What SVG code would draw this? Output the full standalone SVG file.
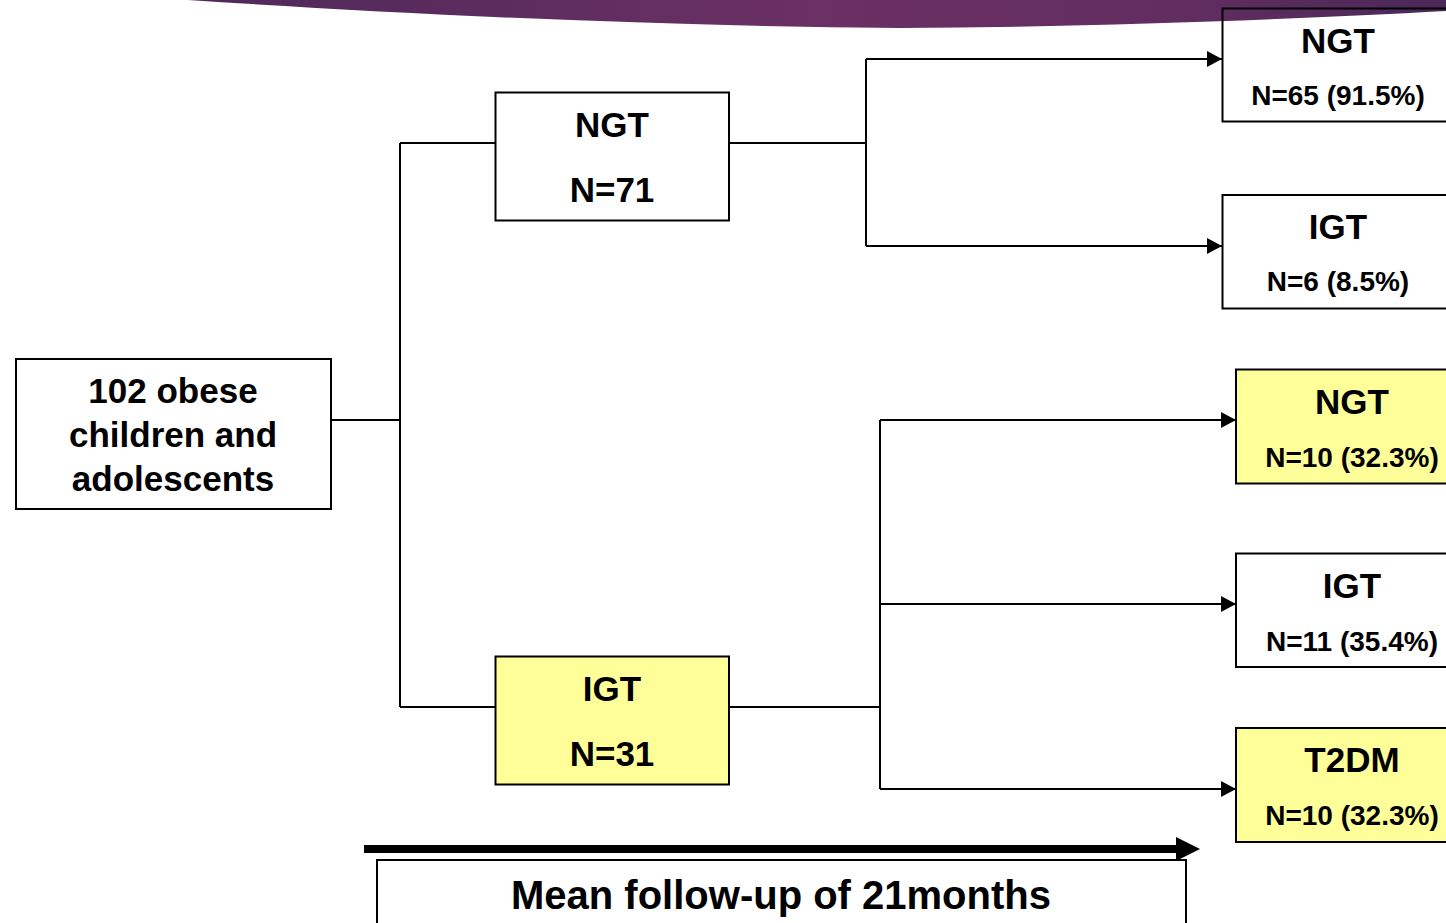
<svg xmlns="http://www.w3.org/2000/svg" width="1446" height="923" viewBox="0 0 1446 923">
<defs>
<linearGradient id="band" x1="0" y1="0" x2="1" y2="0">
<stop offset="0" stop-color="#4f295a"/>
<stop offset="0.5" stop-color="#6b3064"/>
<stop offset="0.8" stop-color="#612d60"/>
<stop offset="1" stop-color="#4a2858"/>
</linearGradient>
<marker id="arr" markerWidth="16" markerHeight="16" refX="15" refY="8" orient="auto" markerUnits="userSpaceOnUse">
<path d="M0,0 L15,8 L0,16 Z" fill="#000"/>
</marker>
<style>
.box{fill:none;stroke:#000;stroke-width:2}
.yel{fill:#ffff99;stroke:#000;stroke-width:2}
.t{font-family:"Liberation Sans",Arial,sans-serif;font-weight:bold;fill:#000;text-anchor:middle}
.big{font-size:35px}
.sm{font-size:28px}
.ln{fill:none;stroke:#000;stroke-width:2}
</style>
</defs>
<rect width="1446" height="923" fill="#fff"/>
<path d="M188,0 C400,14 650,26 900,28 C1100,27 1300,19 1446,11 L1446,0 Z" fill="url(#band)"/>

<g id="connectors">
<path class="ln" d="M331,420 H400 M400,143 V707 M400,143 H495 M400,707 H495"/>
<path class="ln" d="M729,143 H866 M866,59 V246"/>
<path class="ln" d="M866,59 H1222" marker-end="url(#arr)"/>
<path class="ln" d="M866,246 H1222" marker-end="url(#arr)"/>
<path class="ln" d="M729,707 H880 M880,420 V789"/>
<path class="ln" d="M880,420 H1236" marker-end="url(#arr)"/>
<path class="ln" d="M880,604 H1236" marker-end="url(#arr)"/>
<path class="ln" d="M880,789 H1236" marker-end="url(#arr)"/>
<path d="M364,849 H1178" stroke="#000" stroke-width="8" fill="none"/>
<path d="M1176,837 L1200,849 L1176,861 Z" fill="#000"/>
</g>

<g id="root">
<rect class="box" x="16" y="359" width="315" height="150"/>
<text class="t big" x="173" y="403">102 obese</text>
<text class="t big" x="173" y="447">children and</text>
<text class="t big" x="173" y="491">adolescents</text>
</g>

<g id="ngt71">
<rect class="box" x="495.5" y="92.5" width="233.5" height="128"/>
<text class="t big" x="612" y="137">NGT</text>
<text class="t big" x="612" y="202">N=71</text>
</g>

<g id="igt31">
<rect class="yel" x="495.5" y="656.5" width="233.5" height="128"/>
<text class="t big" x="612" y="701">IGT</text>
<text class="t big" x="612" y="766">N=31</text>
</g>

<g id="ngt65">
<rect class="box" x="1222.5" y="8.5" width="240" height="113"/>
<text class="t big" x="1338" y="53">NGT</text>
<text class="t sm" x="1338" y="105">N=65 (91.5%)</text>
</g>

<g id="igt6">
<rect class="box" x="1222.5" y="195" width="240" height="113.5"/>
<text class="t big" x="1338" y="239">IGT</text>
<text class="t sm" x="1338" y="291">N=6 (8.5%)</text>
</g>

<g id="ngt10">
<rect class="yel" x="1236" y="369.5" width="240" height="114"/>
<text class="t big" x="1352" y="414">NGT</text>
<text class="t sm" x="1352" y="467">N=10 (32.3%)</text>
</g>

<g id="igt11">
<rect class="box" x="1236" y="553.5" width="240" height="113.5"/>
<text class="t big" x="1352" y="598">IGT</text>
<text class="t sm" x="1352" y="651">N=11 (35.4%)</text>
</g>

<g id="t2dm">
<rect class="yel" x="1236" y="728" width="240" height="114"/>
<text class="t big" x="1352" y="772">T2DM</text>
<text class="t sm" x="1352" y="825">N=10 (32.3%)</text>
</g>

<g id="followup">
<rect class="box" x="377" y="860" width="809" height="80"/>
<text class="t" style="font-size:40px" x="781" y="909">Mean follow-up of 21months</text>
</g>
</svg>
